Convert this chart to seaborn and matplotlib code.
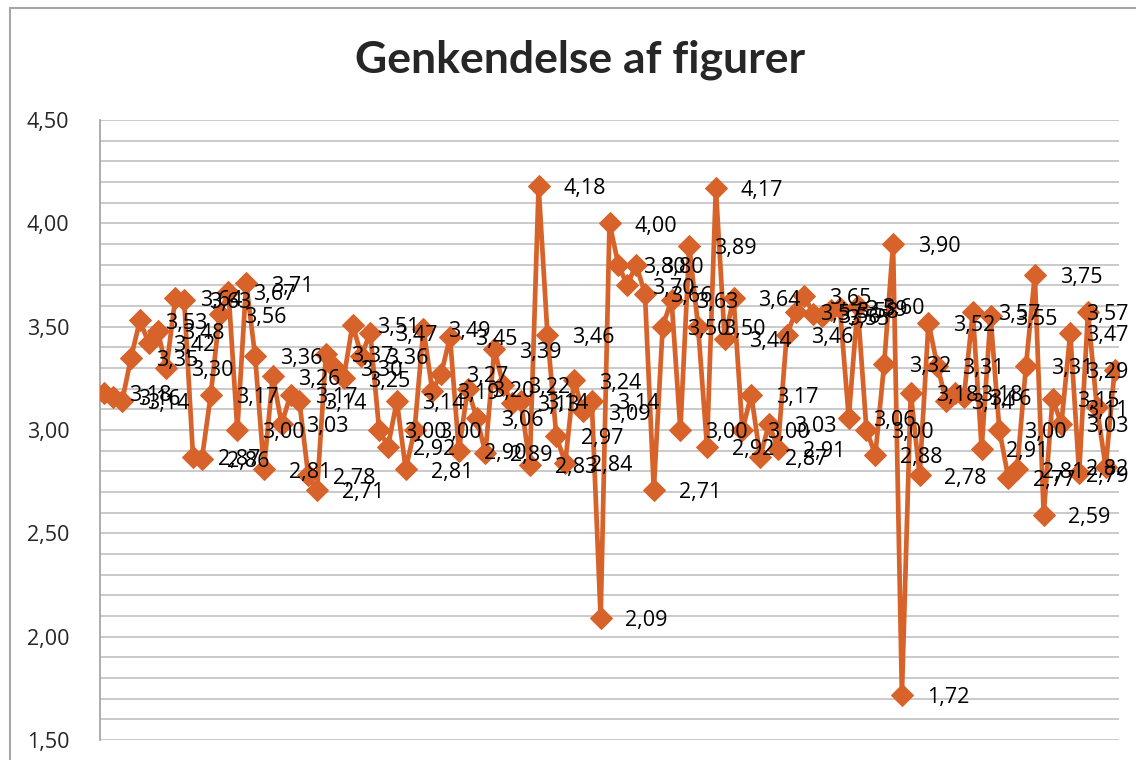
import numpy as np
import pandas as pd
import matplotlib
matplotlib.use("Agg")
import matplotlib.pyplot as plt
from matplotlib.patches import Rectangle
from matplotlib.ticker import MultipleLocator, FuncFormatter
import seaborn as sns

sns.set_theme(style="white")
plt.rcParams["font.family"] = ["Open Sans", "DejaVu Sans"]

TITEL = "Genkendelse af figurer"
ORANGE = "#D7632B"

# gennemsnit pr. figur
vaerdier = [
    3.18, 3.16, 3.14, 3.35, 3.53, 3.42, 3.48, 3.30, 3.64, 3.63,
    2.87, 2.86, 3.17, 3.56, 3.67, 3.00, 3.71, 3.36, 2.81, 3.26,
    3.03, 3.17, 3.14, 2.78, 2.71, 3.37, 3.30, 3.25, 3.51, 3.36,
    3.47, 3.00, 2.92, 3.14, 2.81, 3.00, 3.49, 3.19, 3.27, 3.45,
    2.90, 3.20, 3.06, 2.89, 3.39, 3.22, 3.13, 3.14, 2.83, 4.18,
    3.46, 2.97, 2.84, 3.24, 3.09, 3.14, 2.09, 4.00, 3.80, 3.70,
    3.80, 3.66, 2.71, 3.50, 3.63, 3.00, 3.89, 3.50, 2.92, 4.17,
    3.44, 3.64, 3.00, 3.17, 2.87, 3.03, 2.91, 3.46, 3.57, 3.65,
    3.56, 3.55, 3.58, 3.59, 3.06, 3.60, 3.00, 2.88, 3.32, 3.90,
    1.72, 3.18, 2.78, 3.52, 3.31, 3.14, 3.18, 3.16, 3.57, 2.91,
    3.55, 3.00, 2.77, 2.81, 3.31, 3.75, 2.59, 3.15, 3.03, 3.47,
    2.79, 3.57, 3.11, 2.82, 3.29,
]
figur_nr = list(range(1, len(vaerdier) + 1))
y_ticks = [1.5, 2.0, 2.5, 3.0, 3.5, 4.0, 4.5]

df = pd.DataFrame({"figur": figur_nr, "score": vaerdier})


def komma(v, pos=None):
    return f"{v:.2f}".replace(".", ",")


fig = plt.figure(figsize=(11.36, 7.6), dpi=100)
ax = fig.add_axes([100 / 1136, 20 / 760, 1019 / 1136, 620 / 760])

# ydre diagramramme
fig.patches.append(Rectangle((10 / 1136, -0.05), 1.2, 1.05 - 8 / 760,
                             transform=fig.transFigure, fill=False,
                             edgecolor="#A6A6A6", linewidth=1.5))

sns.lineplot(data=df, x="figur", y="score", ax=ax, color=ORANGE,
             linewidth=3.4, marker="D", markersize=11.5,
             markeredgecolor=ORANGE, zorder=3)

n = len(vaerdier)
for nr, v in zip(figur_nr, vaerdier):
    xl = min(nr + 2.8, n - 3.2)
    ax.annotate(komma(v), xy=(xl, v), xytext=(0, -2), textcoords="offset points",
                ha="left", va="center", fontsize=15.5, color="black", zorder=4)

ax.set_xlim(0.5, n + 0.5)
ax.set_ylim(1.5, 4.5)
ax.set_yticks(y_ticks)
ax.yaxis.set_major_formatter(FuncFormatter(komma))
ax.yaxis.set_minor_locator(MultipleLocator(0.1))
ax.set_xticks([])
ax.grid(axis="y", which="both", color="#C6C6C6", linewidth=1.3)
ax.tick_params(axis="y", length=0, pad=22, labelsize=15.5)
ax.set_xlabel("")
ax.set_ylabel("")
for s in ["top", "right", "bottom"]:
    ax.spines[s].set_visible(False)
ax.spines["left"].set_color("#A6A6A6")
ax.spines["left"].set_linewidth(1.3)

fig.text(580 / 1136, 1 - 60 / 760, TITEL, ha="center", va="center",
         fontsize=32, fontweight="bold", family=["Lato", "DejaVu Sans"])

fig.savefig("out.png", dpi=100)
